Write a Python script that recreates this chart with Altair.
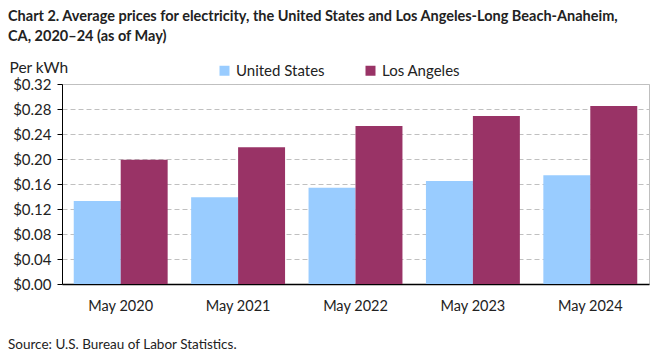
import altair as alt
import pandas as pd

years = ["May 2020", "May 2021", "May 2022", "May 2023", "May 2024"]
series = ["United States", "Los Angeles"]
us_values = [0.133, 0.139, 0.154, 0.165, 0.174]
la_values = [0.199, 0.219, 0.253, 0.269, 0.285]
y_ticks = [0.0, 0.04, 0.08, 0.12, 0.16, 0.20, 0.24, 0.28, 0.32]
colors = ["#99CCFF", "#993366"]

rows = []
for i, yr in enumerate(years):
    rows.append({"year": yr, "series": series[0], "value": us_values[i]})
    rows.append({"year": yr, "series": series[1], "value": la_values[i]})
df = pd.DataFrame(rows)

FONT = "Lato"

bars = alt.Chart(df).mark_bar().encode(
    x=alt.X("year:N", sort=years,
            scale=alt.Scale(paddingInner=0.2, paddingOuter=0.1),
            axis=alt.Axis(title=None, labelAngle=0, ticks=False, domainColor="#000000",
                          domainWidth=1.5, labelFontSize=14.5, labelPadding=15,
                          labelColor="#222222", labelFont=FONT)),
    xOffset=alt.XOffset("series:N", sort=series, scale=alt.Scale(paddingInner=0, paddingOuter=0)),
    y=alt.Y("value:Q", scale=alt.Scale(domain=[0, 0.32], nice=False),
            axis=alt.Axis(values=y_ticks, format="$.2f", title="Per kWh",
                          titleAngle=0, titleAlign="left", titleBaseline="middle",
                          titleX=-53, titleY=-17, titleFontWeight="normal",
                          titleFontSize=15.5, titleFont=FONT, titleColor="#222222",
                          labelFontSize=15, labelFont=FONT, labelColor="#222222",
                          tickSize=5, tickColor="#000000", labelPadding=6,
                          domainColor="#000000", gridColor="#c0c0c0",
                          gridDash=[5, 3], grid=True)),
    color=alt.Color("series:N", sort=series,
                    scale=alt.Scale(domain=series, range=colors),
                    legend=alt.Legend(title=None, orient="none", legendX=155, legendY=-21,
                                      direction="horizontal", symbolType="square",
                                      symbolSize=100, symbolStrokeWidth=0, labelOffset=4,
                                      labelFontSize=15, labelFont=FONT, labelColor="#222222",
                                      columnPadding=38)),
)

source = alt.Chart(pd.DataFrame({"t": ["Source: U.S. Bureau of Labor Statistics."]})).mark_text(
    align="left", baseline="middle", fontSize=13.5, font=FONT, color="#222222"
).encode(text="t:N", x=alt.value(-54), y=alt.value(261))

chart = alt.layer(bars, source).properties(
    width=587, height=200,
    autosize=alt.AutoSizeParams(type="none"),
    padding={"left": 54, "top": 76, "right": 4, "bottom": 68},
    title=alt.TitleParams(
        text=["Chart 2. Average prices for electricity, the United States and Los Angeles-Long Beach-Anaheim,",
              "CA, 2020\u201324 (as of May)"],
        anchor="start", frame="group", dx=-54, offset=16,
        font=FONT, fontSize=14.5, fontWeight="bold", color="#222222", lineHeight=20),
).configure_view(stroke="#bfbfbf")

chart.save("out.html", embed_options={"renderer": "svg", "actions": False})
